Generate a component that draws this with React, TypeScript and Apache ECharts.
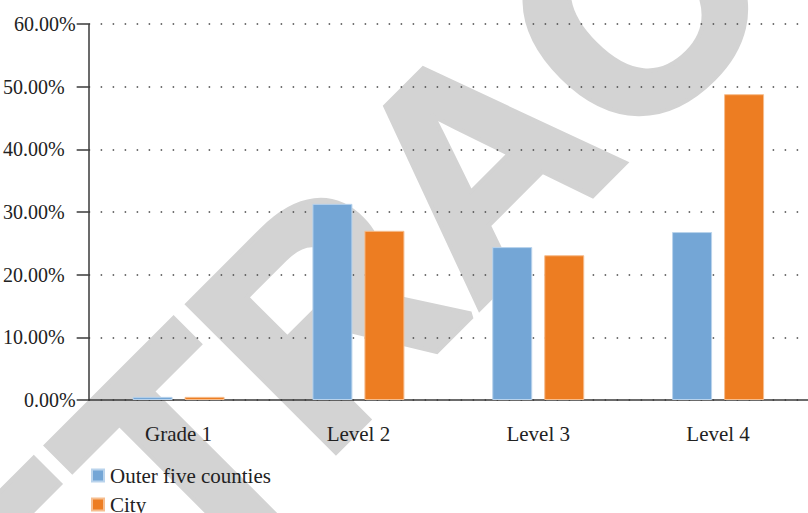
import React, { useEffect, useRef } from "react";
import * as echarts from "echarts";

const categories = ["Grade 1", "Level 2", "Level 3", "Level 4"];
const outerFiveCounties = [0.5, 31.3, 24.4, 26.8];
const city = [0.5, 27.0, 23.1, 48.8];
const seriesNames = ["Outer five counties", "City"];
const yTicks = [0, 10, 20, 30, 40, 50, 60];
const watermarkText = "RETRACTED";

const SERIF = "Liberation Serif";
const FS = 21;
const FSY = 20;
const TXT = "#222";

export default function App() {
  const ref = useRef<HTMLDivElement>(null);
  useEffect(() => {
    document.body.style.margin = "0";
    if (!ref.current) return;
    const chart = echarts.init(ref.current, undefined, { renderer: "svg" });
    const yMax = yTicks[yTicks.length - 1];
    const legendText = { fontFamily: SERIF, fontSize: FS, color: TXT, padding: [0, 0, 0, 1] };
    chart.setOption({
      animation: false,
      textStyle: { fontFamily: SERIF },
      graphic: [
        {
          type: "text",
          z: -10,
          silent: true,
          x: 478,
          y: 161,
          rotation: Math.PI / 4,
          style: {
            text: watermarkText,
            fontSize: 300,
            fontWeight: "bold",
            fontFamily: "Liberation Sans",
            fill: "#d3d3d3",
            stroke: "#d3d3d3",
            lineWidth: 8,
            align: "center",
            verticalAlign: "middle",
          },
        },
      ],
      grid: { left: 86, top: 24, bottom: 113, right: -6, containLabel: false },
      legend: [
        {
          left: 86,
          top: 460,
          itemWidth: 12,
          itemHeight: 12,
          icon: "rect",
          data: [seriesNames[0]],
          textStyle: legendText,
        },
        {
          left: 86,
          top: 489,
          itemWidth: 12,
          itemHeight: 12,
          icon: "rect",
          data: [seriesNames[1]],
          textStyle: legendText,
        },
      ],
      xAxis: {
        type: "category",
        data: categories,
        axisLine: { lineStyle: { color: "#3a3a3a", width: 1.5 } },
        axisTick: { alignWithLabel: true, length: 12, lineStyle: { color: "#3a3a3a", width: 1.5 } },
        axisLabel: { fontFamily: SERIF, fontSize: FS, color: TXT, margin: 23 },
        splitLine: { show: false },
      },
      yAxis: {
        type: "value",
        min: 0,
        max: yMax,
        interval: 10,
        axisLine: { show: true, lineStyle: { color: "#3a3a3a", width: 1.5 } },
        axisTick: { show: true, length: 12, lineStyle: { color: "#3a3a3a", width: 1.5 } },
        axisLabel: {
          margin: 13,
          formatter: (v: number) =>
            v === 0 || v === yMax ? `{a|${v.toFixed(2)}%}` : `{b|${v.toFixed(2)}%}`,
          rich: {
            a: { fontFamily: SERIF, fontSize: FSY, color: TXT },
            b: { fontFamily: SERIF, fontSize: FSY, color: TXT, padding: [0, 11, 0, 0] },
          },
        },
        splitLine: {
          show: true,
          lineStyle: { color: "#444", width: 1.5, type: [1.5, 10.5] },
        },
      },
      series: [
        {
          name: seriesNames[0],
          type: "bar",
          data: outerFiveCounties,
          barWidth: 40,
          barGap: "30%",
          itemStyle: { color: "#74A6D6", borderColor: "#b9d3ec", borderWidth: 1 },
        },
        {
          name: seriesNames[1],
          type: "bar",
          data: city,
          barWidth: 40,
          itemStyle: { color: "#ED7D22", borderColor: "#f6bd8e", borderWidth: 1 },
        },
      ],
    });
    return () => chart.dispose();
  }, []);
  return <div ref={ref} style={{ width: 808, height: 513 }} />;
}
